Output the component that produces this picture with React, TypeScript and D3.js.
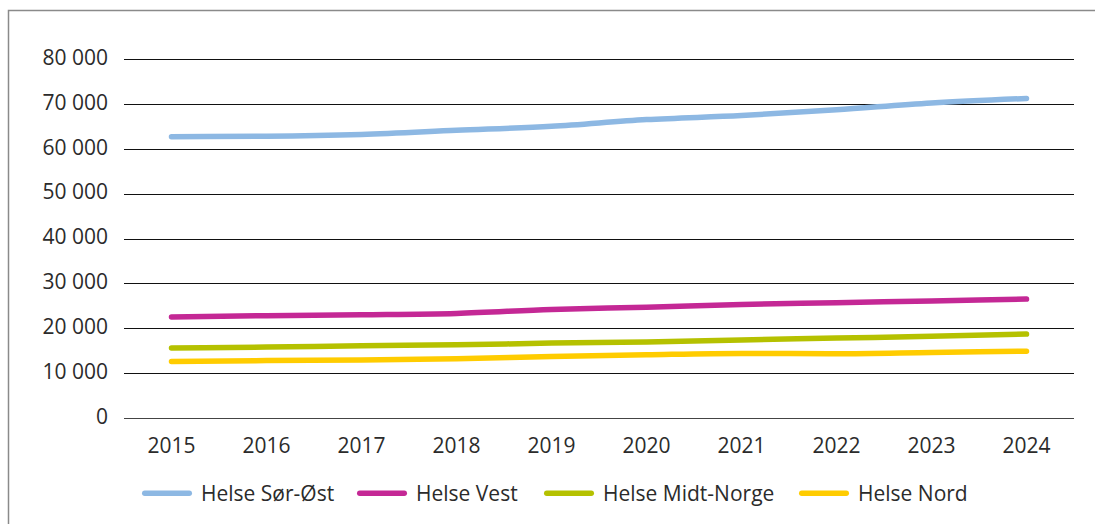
import React, { useEffect, useRef } from "react";
import * as d3 from "d3";

const years = ["2015", "2016", "2017", "2018", "2019", "2020", "2021", "2022", "2023", "2024"];
const seriesNames = ["Helse Sør-Øst", "Helse Vest", "Helse Midt-Norge", "Helse Nord"];
const sorOst = [62700, 62800, 63200, 64100, 65000, 66500, 67400, 68700, 70200, 71200];
const vest = [22500, 22800, 23000, 23300, 24200, 24700, 25300, 25700, 26100, 26500];
const midtNorge = [15600, 15800, 16100, 16300, 16700, 16950, 17400, 17800, 18200, 18700];
const nord = [12600, 12800, 12900, 13200, 13700, 14100, 14400, 14300, 14600, 14900];
const yTicks = [0, 10000, 20000, 30000, 40000, 50000, 60000, 70000, 80000];
const colors = ["#8db8e3", "#c42895", "#b5c100", "#ffcc00"];

const W = 1095;
const H = 524;

const App = () => {
  const svgRef = useRef<SVGSVGElement>(null);

  useEffect(() => {
    const svg = d3.select(svgRef.current);
    svg.selectAll("*").remove();

    const margin = { top: 59, right: 21, bottom: 106, left: 124 };
    const font = "'Open Sans', sans-serif";
    const fontSize = 21;

    // frame around the chart (top and left only visible)
    svg.append("path")
      .attr("d", `M8.5,${H} L8.5,10.5 L${W},10.5`)
      .attr("fill", "none")
      .attr("stroke", "#8a8a8a")
      .attr("stroke-width", 1.5);

    const x = d3.scaleBand()
      .domain(years)
      .range([margin.left, W - margin.right]);

    const y = d3.scaleLinear()
      .domain([0, 80000])
      .range([H - margin.bottom, margin.top]);

    const fmt = (v: number) => d3.format(",")(v).replace(/,/g, " ");

    // gridlines
    svg.append("g")
      .selectAll("line")
      .data(yTicks)
      .join("line")
      .attr("x1", margin.left)
      .attr("x2", W - margin.right)
      .attr("y1", (d) => Math.round(y(d)) + 0.5)
      .attr("y2", (d) => Math.round(y(d)) + 0.5)
      .attr("stroke", (d) => (d === 0 ? "#444" : "#111"))
      .attr("stroke-width", 1);

    // y labels
    svg.append("g")
      .selectAll("text")
      .data(yTicks)
      .join("text")
      .attr("x", 108)
      .attr("y", (d) => y(d) - 1.5)
      .attr("dy", "0.35em")
      .attr("text-anchor", "end")
      .attr("font-family", font)
      .attr("font-size", fontSize)
      .attr("fill", "#2b2b2b")
      .text((d) => fmt(d));

    // x labels
    svg.append("g")
      .selectAll("text")
      .data(years)
      .join("text")
      .attr("x", (d) => x(d)! + x.bandwidth() / 2)
      .attr("y", 446)
      .attr("dy", "0.35em")
      .attr("text-anchor", "middle")
      .attr("font-family", font)
      .attr("font-size", fontSize)
      .attr("fill", "#2b2b2b")
      .text((d) => d);

    const data = [sorOst, vest, midtNorge, nord];

    const line = d3.line<number>()
      .x((d, i) => x(years[i])! + x.bandwidth() / 2)
      .y((d) => y(d))
      .curve(d3.curveMonotoneX);

    // draw from bottom series upward so Sør-Øst sits on top
    data.slice().reverse().forEach((vals, ri) => {
      const i = data.length - 1 - ri;
      svg.append("path")
        .datum(vals)
        .attr("fill", "none")
        .attr("stroke", colors[i])
        .attr("stroke-width", 5.5)
        .attr("stroke-linecap", "round")
        .attr("stroke-linejoin", "round")
        .attr("d", line);
    });

    // legend: visible swatch start, text start
    const legendX = [142, 357, 544, 799];
    const legend = svg.append("g");
    seriesNames.forEach((name, i) => {
      legend.append("line")
        .attr("x1", legendX[i] + 2.75)
        .attr("x2", legendX[i] + 47.25)
        .attr("y1", 493.3)
        .attr("y2", 493.3)
        .attr("stroke", colors[i])
        .attr("stroke-width", 5.5)
        .attr("stroke-linecap", "round");
      legend.append("text")
        .attr("x", legendX[i] + 59)
        .attr("y", 493.5)
        .attr("dy", "0.35em")
        .attr("font-family", font)
        .attr("font-size", fontSize)
        .attr("fill", "#2b2b2b")
        .text(name);
    });
  }, []);

  return (
    <svg
      ref={svgRef}
      width={W}
      height={H}
      style={{ position: "absolute", left: 0, top: 0, background: "#fff" }}
    ></svg>
  );
};

export default App;
